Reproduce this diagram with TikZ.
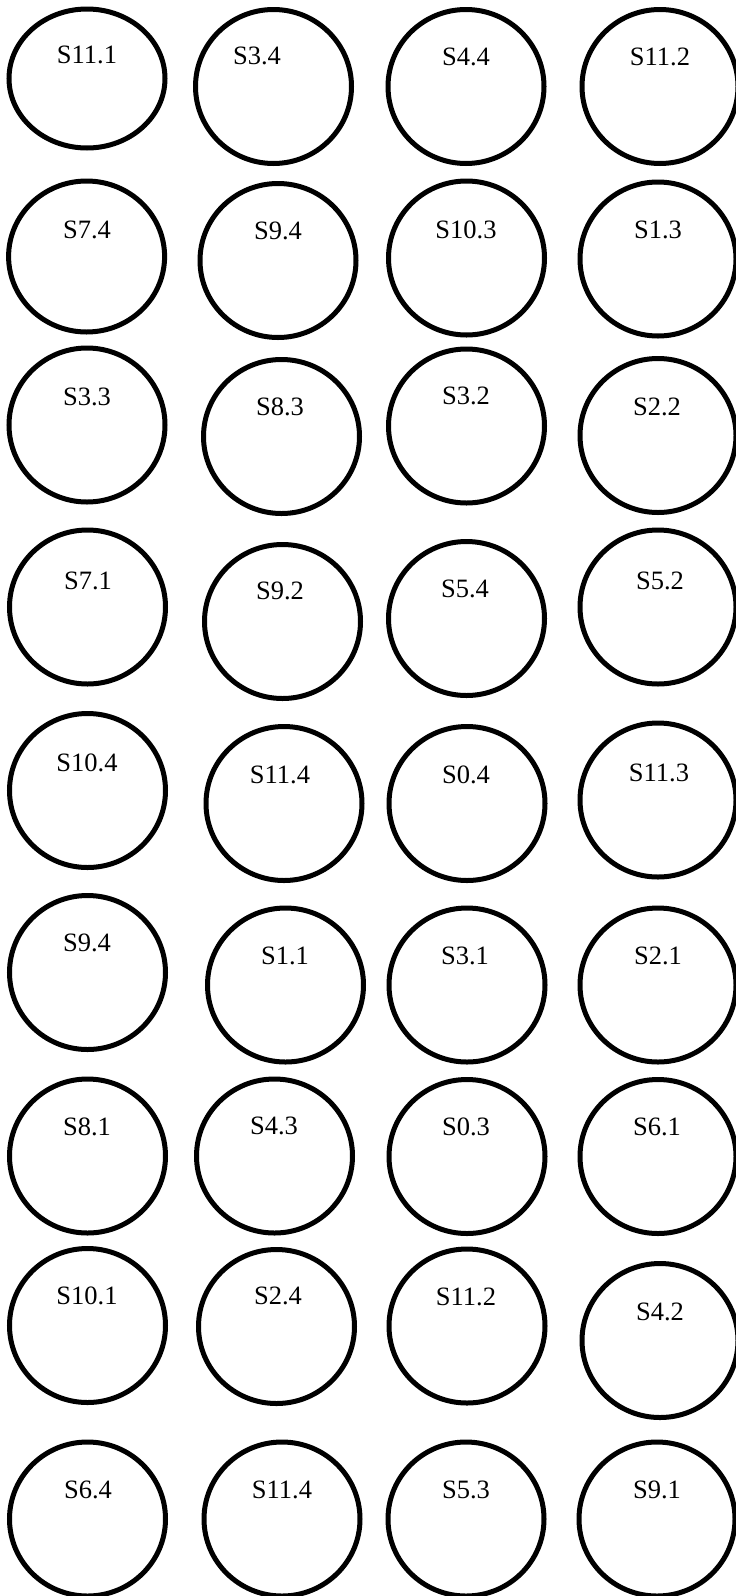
\documentclass[tikz,border=0pt]{standalone}
\usepackage{fontspec}
\setmainfont{Liberation Serif}
\usetikzlibrary{shapes.geometric}

\begin{document}
\begin{tikzpicture}[x=1pt,y={(0pt,-1pt)},
  ring/.style={ellipse,draw=black,line width=5pt,inner sep=0pt,minimum width=156pt,minimum height=154pt},
  tag/.style={font=\fontsize{26.5}{30}\selectfont,inner sep=0pt,text=black}]
\clip (0,0) rectangle (736,1596);
\fill[white] (0,0) rectangle (736,1596);
% row 1
\node[ring,minimum height=139pt] (r1c1) at (87.0,78.5) {};
\node[ring] (r1c2) at (273.5,86.5) {};
\node[ring] (r1c3) at (466.0,86.5) {};
\node[ring] (r1c4) at (660.0,86.5) {};
\node[tag] (t1c1) at (87,55) {S11.1};
\node[tag] (t1c2) at (257,56) {S3.4};
\node[tag] (t1c3) at (466,57) {S4.4};
\node[tag] (t1c4) at (660,57) {S11.2};
% row 2
\node[ring,minimum height=151pt] (r2c1) at (86.6,256.5) {};
\node[ring] (r2c2) at (278.0,260.5) {};
\node[ring] (r2c3) at (466.5,258.0) {};
\node[ring] (r2c4) at (658.0,259.0) {};
\node[tag] (t2c1) at (87,230) {S7.4};
\node[tag] (t2c2) at (278,231) {S9.4};
\node[tag] (t2c3) at (466,230) {S10.3};
\node[tag] (t2c4) at (658,230) {S1.3};
% row 3
\node[ring] (r3c1) at (87.0,425.0) {};
\node[ring] (r3c2) at (281.5,436.5) {};
\node[ring] (r3c3) at (466.5,426.0) {};
\node[ring] (r3c4) at (658.0,435.5) {};
\node[tag] (t3c1) at (87,397) {S3.3};
\node[tag] (t3c2) at (280,407) {S8.3};
\node[tag] (t3c3) at (466,396) {S3.2};
\node[tag] (t3c4) at (657,407) {S2.2};
% row 4
\node[ring] (r4c1) at (87.5,607.0) {};
\node[ring] (r4c2) at (282.5,621.5) {};
\node[ring] (r4c3) at (466.5,618.5) {};
\node[ring] (r4c4) at (658.0,607.0) {};
\node[tag] (t4c1) at (88,581) {S7.1};
\node[tag] (t4c2) at (280,591) {S9.2};
\node[tag] (t4c3) at (465,589) {S5.4};
\node[tag] (t4c4) at (660,581) {S5.2};
% row 5
\node[ring] (r5c1) at (87.5,790.5) {};
\node[ring] (r5c2) at (284.0,803.5) {};
\node[ring] (r5c3) at (467.0,803.5) {};
\node[ring] (r5c4) at (658.0,800.0) {};
\node[tag] (t5c1) at (87,763) {S10.4};
\node[tag] (t5c2) at (280,775) {S11.4};
\node[tag] (t5c3) at (466,775) {S0.4};
\node[tag] (t5c4) at (659,773) {S11.3};
% row 6
\node[ring] (r6c1) at (87.5,972.5) {};
\node[ring] (r6c2) at (285.5,985.0) {};
\node[ring] (r6c3) at (467.0,985.0) {};
\node[ring] (r6c4) at (658.0,985.0) {};
\node[tag] (t6c1) at (87,943) {S9.4};
\node[tag] (t6c2) at (285,956) {S1.1};
\node[tag] (t6c3) at (465,956) {S3.1};
\node[tag] (t6c4) at (658,956) {S2.1};
% row 7
\node[ring] (r7c1) at (87.5,1156.0) {};
\node[ring] (r7c2) at (274.5,1156.0) {};
\node[ring] (r7c3) at (467.0,1156.5) {};
\node[ring] (r7c4) at (658.0,1156.5) {};
\node[tag] (t7c1) at (87,1127) {S8.1};
\node[tag] (t7c2) at (274,1126) {S4.3};
\node[tag] (t7c3) at (466,1127) {S0.3};
\node[tag] (t7c4) at (657,1127) {S6.1};
% row 8
\node[ring] (r8c1) at (87.5,1325.5) {};
\node[ring] (r8c2) at (276.5,1326.5) {};
\node[ring] (r8c3) at (467.0,1326.0) {};
\node[ring] (r8c4) at (660.0,1340.5) {};
\node[tag] (t8c1) at (87,1296) {S10.1};
\node[tag] (t8c2) at (278,1296) {S2.4};
\node[tag] (t8c3) at (466,1297) {S11.2};
\node[tag] (t8c4) at (660,1312) {S4.2};
% row 9
\node[ring] (r9c1) at (87.5,1519.0) {};
\node[ring] (r9c2) at (282.0,1519.0) {};
\node[ring] (r9c3) at (466.0,1519.0) {};
\node[ring] (r9c4) at (657.0,1519.0) {};
\node[tag] (t9c1) at (88,1490) {S6.4};
\node[tag] (t9c2) at (282,1490) {S11.4};
\node[tag] (t9c3) at (466,1490) {S5.3};
\node[tag] (t9c4) at (657,1490) {S9.1};
\end{tikzpicture}
\end{document}
